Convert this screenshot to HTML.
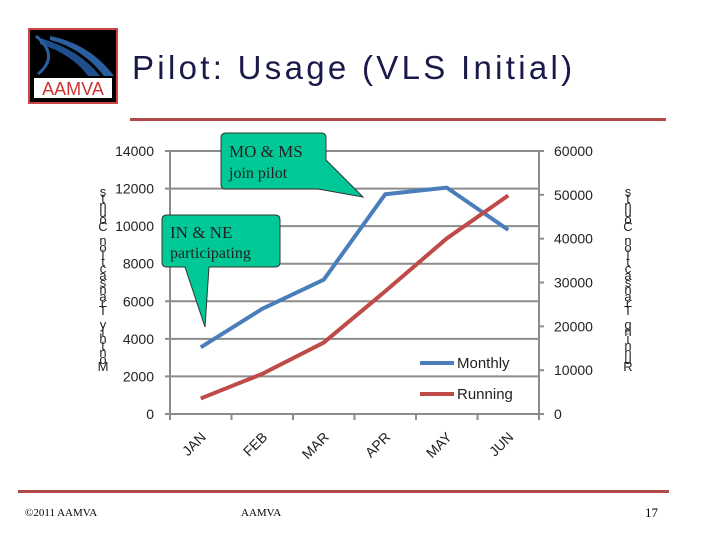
<!DOCTYPE html>
<html><head><meta charset="utf-8"><style>
body{margin:0;width:720px;height:540px;background:#fff;position:relative;overflow:hidden;font-family:"Liberation Sans",sans-serif}
.abs{position:absolute}
</style></head><body>
<div class="abs" style="left:28px;top:28px;width:90px;height:76px;background:#000;border:2px solid #c44;box-sizing:border-box">
<svg width="86" height="72" viewBox="0 0 86 72"><path d="M10 8 Q50 20 70 46 L58 46 Q42 24 10 14Z" fill="#1e4f8c"/><path d="M20 6 Q60 14 84 46 L74 46 Q52 18 20 10Z" fill="#2a5fa0"/><path d="M6 6 Q30 26 8 44" stroke="#2a5fa0" stroke-width="3" fill="none"/><rect x="4" y="48" width="78" height="20" fill="#fff"/><text x="43" y="65" font-size="18" text-anchor="middle" fill="#c33" font-family="Liberation Sans">AAMVA</text></svg></div>
<div class="abs" style="left:132px;top:49px;font-size:33px;color:#1a1a4a;letter-spacing:3.3px">Pilot: Usage (VLS Initial)</div>
<div class="abs" style="left:130px;top:118px;width:536px;height:3px;background:#b04848"></div>
<svg class="abs" style="left:0;top:0" width="720" height="540" id="chart"></svg>
<div class="abs" style="left:18px;top:490px;width:651px;height:3px;background:#b04848"></div>
<div class="abs" style="left:25px;top:507px;font-size:11px;font-family:'Liberation Serif',serif">©2011 AAMVA</div>
<div class="abs" style="left:241px;top:507px;font-size:11px;font-family:'Liberation Serif',serif">AAMVA</div>
<div class="abs" style="left:645px;top:505px;font-size:13px;font-family:'Liberation Serif',serif">17</div>
<script>
const categories=["JAN","FEB","MAR","APR","MAY","JUN"];
const monthly=[3550,5600,7150,11700,12050,9800];
const running=[3550,9150,16300,28000,40050,49850];
const leftTicks=[0,2000,4000,6000,8000,10000,12000,14000];
const rightTicks=[0,10000,20000,30000,40000,50000,60000];
const NS="http://www.w3.org/2000/svg";
const svg=document.getElementById('chart');
const X0=170,X1=539,Y0=414,Y1=151;
const bw=(X1-X0)/categories.length;
const xc=i=>X0+bw*(i+0.5);
const yL=v=>Y0-(v/14000)*(Y0-Y1);
const yR=v=>Y0-(v/60000)*(Y0-Y1);
function el(t,a,txt){const e=document.createElementNS(NS,t);for(const k in a)e.setAttribute(k,a[k]);if(txt!==undefined)e.textContent=txt;svg.appendChild(e);return e;}
leftTicks.forEach(v=>{
 const g=el('line',{x1:X0-5,x2:X1,y1:yL(v),y2:yL(v),stroke:'#8c8c8c','stroke-width':2});
 
 
 const t=el('text',{x:X0-16,y:yL(v)+5,'font-size':14,'text-anchor':'end',fill:'#222'},v);
 
 
});
rightTicks.forEach(v=>{
 el('line',{x1:X1,x2:X1+5,y1:yR(v),y2:yR(v),stroke:'#8c8c8c','stroke-width':2});
 const t=el('text',{x:X1+15,y:yR(v)+5,'font-size':14,fill:'#222'},v);
 
 
});
el('line',{x1:X0,x2:X0,y1:Y1,y2:Y0+5,stroke:'#8c8c8c','stroke-width':2});
el('line',{x1:X1,x2:X1,y1:Y1,y2:Y0+5,stroke:'#8c8c8c','stroke-width':2});
for(let i=0;i<=categories.length;i++)el('line',{x1:X0+bw*i,x2:X0+bw*i,y1:Y0,y2:Y0+6,stroke:'#8c8c8c','stroke-width':2});
categories.forEach((c,i)=>{
 const t=el('text',{x:xc(i)+6,y:Y0+24,'font-size':14,'text-anchor':'end',fill:'#222',transform:`rotate(-45 ${xc(i)+6} ${Y0+24})`},c);
 
 
});
const pm=el('polyline',{points:monthly.map((v,i)=>xc(i)+','+yL(v)).join(' '),fill:'none',stroke:'#4a7ebb','stroke-width':4,'stroke-linejoin':'round'});


const pr=el('polyline',{points:running.map((v,i)=>xc(i)+','+yR(v)).join(' '),fill:'none',stroke:'#be4b48','stroke-width':4,'stroke-linejoin':'round'});


[['Monthly','#4a7ebb',363],['Running','#be4b48',394]].forEach(([n,c,y])=>{
 const l=el('line',{x1:420,x2:454,y1:y,y2:y,stroke:c,'stroke-width':4});
 
 
 const t=el('text',{x:457,y:y+5,'font-size':15,fill:'#222'},n);
 
 
});
function vtitle(str,x,ytop,name){
 const chars=str.split('').reverse();
 chars.forEach((ch,i)=>{
  const t=el('text',{x:x,y:ytop+i*7,'font-size':13,'text-anchor':'middle',fill:'#222'},ch);
  
  
 });
}
vtitle("Monthly Transaction Counts",103,196,'left-axis-title');
vtitle("Running Transaction Counts",628,196,'right-axis-title');
const c1=el('path',{d:'M226 133 H321 Q326 133 326 138 V160 L363 197 L318 189 H226 Q221 189 221 184 V138 Q221 133 226 133 Z',fill:'#00c896',stroke:'#333','stroke-width':1});


el('text',{x:229,y:157,'font-size':17,'font-family':'Liberation Serif',fill:'#222'},'MO & MS');
el('text',{x:229,y:178,'font-size':16,'font-family':'Liberation Serif',fill:'#222'},'join pilot');
const c2=el('path',{d:'M167 215 H275 Q280 215 280 220 V262 Q280 267 275 267 H209 L205 327 L185 267 H167 Q162 267 162 262 V220 Q162 215 167 215 Z',fill:'#00c896',stroke:'#333','stroke-width':1});


el('text',{x:170,y:238,'font-size':17,'font-family':'Liberation Serif',fill:'#222'},'IN & NE');
el('text',{x:170,y:258,'font-size':16,'font-family':'Liberation Serif',fill:'#222'},'participating');
</script>
</body></html>
